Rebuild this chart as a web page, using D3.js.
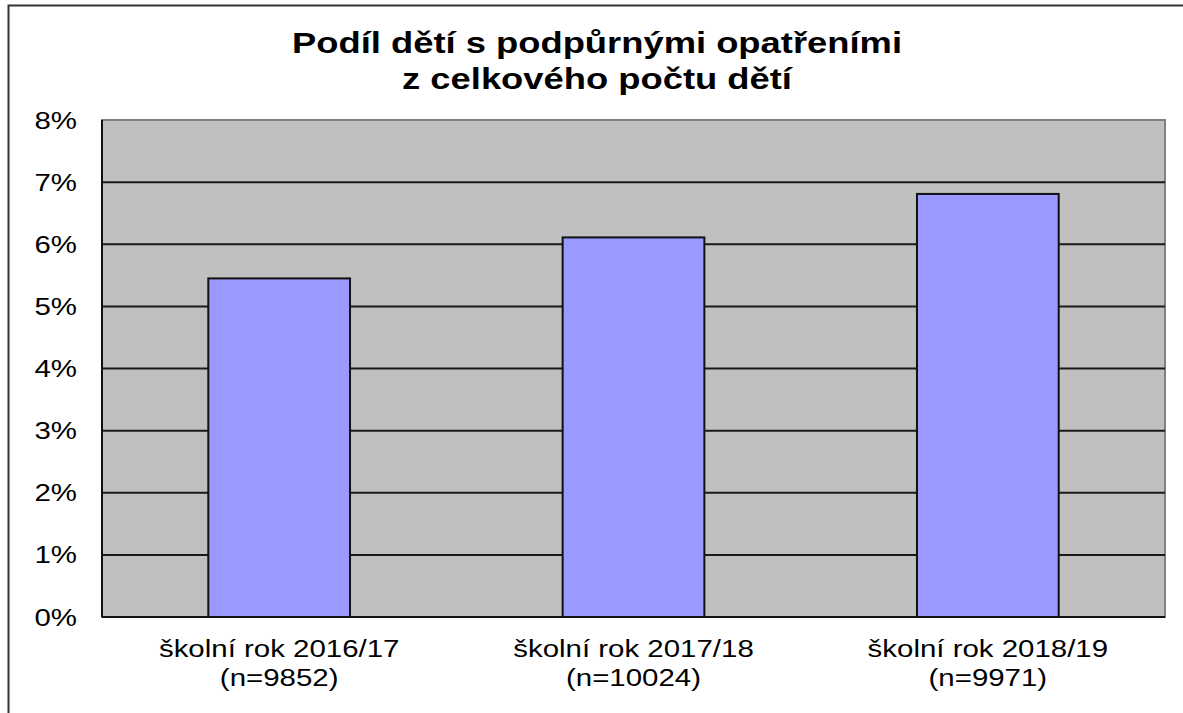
<!DOCTYPE html>
<html><head><meta charset="utf-8">
<script src="https://cdn.jsdelivr.net/npm/d3@7"></script>
<style>body{margin:0;background:#fff}svg{display:block}</style>
</head><body>
<script>
const categories = ["školní rok 2016/17", "školní rok 2017/18", "školní rok 2018/19"];
const sampleSizes = ["(n=9852)", "(n=10024)", "(n=9971)"];
const values = [5.45, 6.11, 6.81];
const yTicks = [0, 1, 2, 3, 4, 5, 6, 7, 8];
const titleLines = ["Podíl dětí s podpůrnými opatřeními", "z celkového počtu dětí"];

const W = 1183, H = 713;
const m = {left: 102, right: 18, top: 120, bottom: 96};
const SX = 1.28;
const svg = d3.select("body").append("svg").attr("width", W).attr("height", H);
const font = "'Liberation Sans', Arial, sans-serif";

svg.append("rect").attr("x", 8.5).attr("y", 5.5).attr("width", W + 10).attr("height", H + 10)
  .attr("fill", "none").attr("stroke", "#333").attr("stroke-width", 2);

const x = d3.scaleBand().domain(categories).range([m.left, W - m.right]).paddingInner(0.6).paddingOuter(0.3);
const y = d3.scaleLinear().domain([0, 8]).range([H - m.bottom, m.top]);

svg.append("rect").attr("x", m.left).attr("y", y(8)).attr("width", W - m.right - m.left)
  .attr("height", y(0) - y(8)).attr("fill", "#c0c0c0").attr("stroke", "#808080").attr("stroke-width", 2);

svg.append("g").selectAll("line").data(yTicks.filter(d => d > 0 && d < 8)).join("line")
  .attr("x1", m.left).attr("x2", W - m.right).attr("y1", d => y(d)).attr("y2", d => y(d))
  .attr("stroke", "#1a1a1a").attr("stroke-width", 2);

svg.append("g").selectAll("rect").data(values).join("rect")
  .attr("x", (d, i) => x(categories[i])).attr("width", x.bandwidth())
  .attr("y", d => y(d)).attr("height", d => y(0) - y(d))
  .attr("fill", "#9999ff").attr("stroke", "#111").attr("stroke-width", 2);

svg.append("line").attr("x1", m.left).attr("x2", m.left).attr("y1", y(8)).attr("y2", y(0)).attr("stroke", "#111").attr("stroke-width", 2);
svg.append("line").attr("x1", m.left).attr("x2", W - m.right).attr("y1", y(0)).attr("y2", y(0)).attr("stroke", "#111").attr("stroke-width", 2);

// y axis (ticks via d3 axis, labels stretched horizontally)
const yAxis = d3.axisLeft(y).tickValues(yTicks).tickFormat(d => d + "%").tickSize(0).tickPadding(0);
const ya = svg.append("g").attr("transform", `translate(77,0)`).call(yAxis);
ya.select(".domain").remove();
ya.selectAll("text").attr("font-family", font).attr("font-size", 23).attr("fill", "#000")
  .attr("dy", "0.35em").attr("x", 0).attr("transform", `scale(${SX},1)`);

// category labels
const lg = svg.append("g").selectAll("g").data(categories).join("g")
  .attr("transform", d => `translate(${x(d) + x.bandwidth() / 2},0) scale(${SX},1)`);
lg.append("text").attr("y", 657).attr("text-anchor", "middle").attr("font-family", font)
  .attr("font-size", 23).attr("fill", "#000").text(d => d);
lg.append("text").attr("y", 686).attr("text-anchor", "middle").attr("font-family", font)
  .attr("font-size", 23).attr("fill", "#000").text((d, i) => sampleSizes[i]);

// title
svg.append("g").selectAll("text").data(titleLines).join("text")
  .attr("transform", (d, i) => `translate(597,${53 + i * 36}) scale(${SX * 0.98},1)`)
  .attr("text-anchor", "middle").attr("font-family", font).attr("font-weight", "bold")
  .attr("font-size", 29).attr("fill", "#000").text(d => d);
</script>
</body></html>
